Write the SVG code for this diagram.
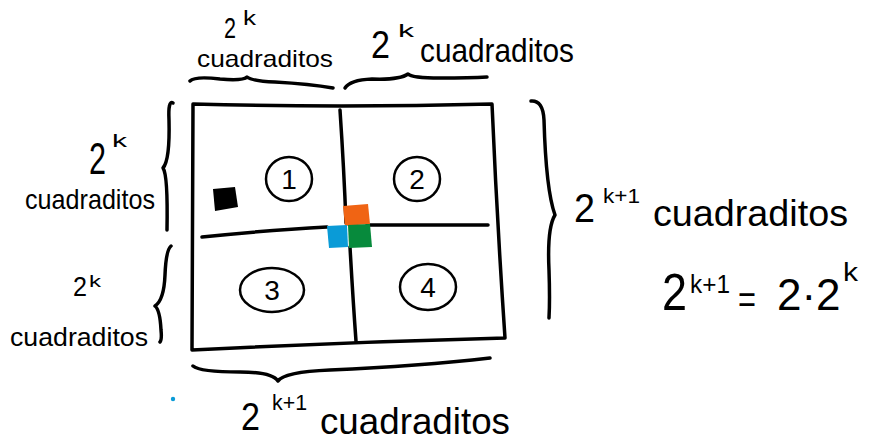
<svg xmlns="http://www.w3.org/2000/svg" width="870" height="443" viewBox="0 0 870 443">
<style>
.ln{fill:none;stroke:#000;stroke-width:3.5;stroke-linecap:round;stroke-linejoin:round}
.th{fill:none;stroke:#000;stroke-width:2.5;stroke-linecap:round}
text{font-family:"Liberation Sans","DejaVu Sans",sans-serif;fill:#000}
.num{font-size:28px}
</style>
<rect width="870" height="443" fill="#fff"/>
<g id="grid">
<path class="ln" d="M193,104 Q340,108 492,104 Q497,220 505,338 Q350,342 192,350 Q193,230 193,104"/>
<path class="ln" d="M340,110 Q344,170 346,223"/>
<path class="ln" d="M350,247 Q353,300 356,341"/>
<path class="ln" d="M202,237 Q270,230 327,227"/>
<path class="ln" d="M367,225 Q430,225 488,225"/>
</g>
<g id="q1">
<ellipse class="th" cx="289" cy="179" rx="23" ry="22"/>
<text class="num" x="289" y="189" text-anchor="middle">1</text>
</g>
<g id="q2">
<ellipse class="th" cx="417" cy="179" rx="23" ry="22"/>
<text class="num" x="417" y="189" text-anchor="middle">2</text>
</g>
<g id="q3">
<ellipse class="th" cx="272" cy="290" rx="32" ry="22"/>
<text class="num" x="272" y="300" text-anchor="middle">3</text>
</g>
<g id="q4">
<ellipse class="th" cx="428" cy="287" rx="28" ry="23"/>
<text class="num" x="428" y="297" text-anchor="middle">4</text>
</g>
<g id="squares">
<path d="M213,189 L235,187 L238,207 L215,211 Z" fill="#000"/>
<path d="M343,206 L368,204 L370,224 L345,226 Z" fill="#f06414"/>
<path d="M327,226 L347,225 L348,247 L329,248 Z" fill="#0a9bd7"/>
<path d="M348,225 L370,224 L372,247 L349,248 Z" fill="#078a3c"/>
<circle cx="173" cy="399" r="2.2" fill="#0a9bd7"/>
</g>
<g id="braces">
<path class="ln" d="M190,81 Q195,76 220,79 Q243,81 247,77 Q252,81 275,82 Q310,84 333,88"/>
<path class="ln" d="M345,88 Q350,80 372,79 Q400,80 408,74 Q412,78 440,78 Q470,78 487,77"/>
<path class="ln" d="M173,103 Q168,100 169,120 Q170,160 163,168 Q168,175 167,230"/>
<path class="ln" d="M171,246 Q166,250 165,275 Q164,300 155,306 Q160,310 161,330 Q162,340 160,342"/>
<path class="ln" d="M531,101 Q543,100 544,120 Q546,190 555,215 Q547,228 549,270 Q550,300 549,318"/>
<path class="ln" d="M193,366 Q200,372 240,372 Q272,372 278,381 Q284,372 330,370 Q420,366 490,358"/>
</g>
<g id="labels">
<text x="224" y="38" font-size="30" textLength="12" lengthAdjust="spacingAndGlyphs">2</text>
<text x="243" y="25" font-size="20" textLength="13" lengthAdjust="spacingAndGlyphs">k</text>
<text x="197" y="67" font-size="24" textLength="136" lengthAdjust="spacingAndGlyphs">cuadraditos</text>
<text x="371" y="58" font-size="38" textLength="19" lengthAdjust="spacingAndGlyphs">2</text>
<text x="398" y="37" font-size="18" textLength="16" lengthAdjust="spacingAndGlyphs">k</text>
<text x="420" y="62" font-size="34" textLength="154" lengthAdjust="spacingAndGlyphs">cuadraditos</text>
<text x="89" y="174" font-size="44" textLength="17" lengthAdjust="spacingAndGlyphs">2</text>
<text x="112" y="147" font-size="18" textLength="15" lengthAdjust="spacingAndGlyphs">k</text>
<text x="25" y="209" font-size="28" textLength="130" lengthAdjust="spacingAndGlyphs">cuadraditos</text>
<text x="73" y="296" font-size="28" textLength="14" lengthAdjust="spacingAndGlyphs">2</text>
<text x="89" y="287" font-size="17" textLength="12" lengthAdjust="spacingAndGlyphs">k</text>
<text x="10" y="346" font-size="26" textLength="138" lengthAdjust="spacingAndGlyphs">cuadraditos</text>
<text x="574" y="222" font-size="40" textLength="21" lengthAdjust="spacingAndGlyphs">2</text>
<text x="603" y="203" font-size="20" textLength="37" lengthAdjust="spacingAndGlyphs">k+1</text>
<text x="653" y="226" font-size="36" textLength="195" lengthAdjust="spacingAndGlyphs">cuadraditos</text>
<text x="662" y="310" font-size="52" textLength="25" lengthAdjust="spacingAndGlyphs">2</text>
<text x="690" y="293" font-size="26" textLength="40" lengthAdjust="spacingAndGlyphs">k+1</text>
<text x="738" y="313" font-size="38" textLength="18" lengthAdjust="spacingAndGlyphs">=</text>
<text x="777" y="310" font-size="44">2·2</text>
<text x="843" y="281" font-size="26" textLength="15" lengthAdjust="spacingAndGlyphs">k</text>
<text x="241" y="430" font-size="38" textLength="19" lengthAdjust="spacingAndGlyphs">2</text>
<text x="272" y="410" font-size="22" textLength="35" lengthAdjust="spacingAndGlyphs">k+1</text>
<text x="320" y="434" font-size="36" textLength="190" lengthAdjust="spacingAndGlyphs">cuadraditos</text>
</g>
</svg>
